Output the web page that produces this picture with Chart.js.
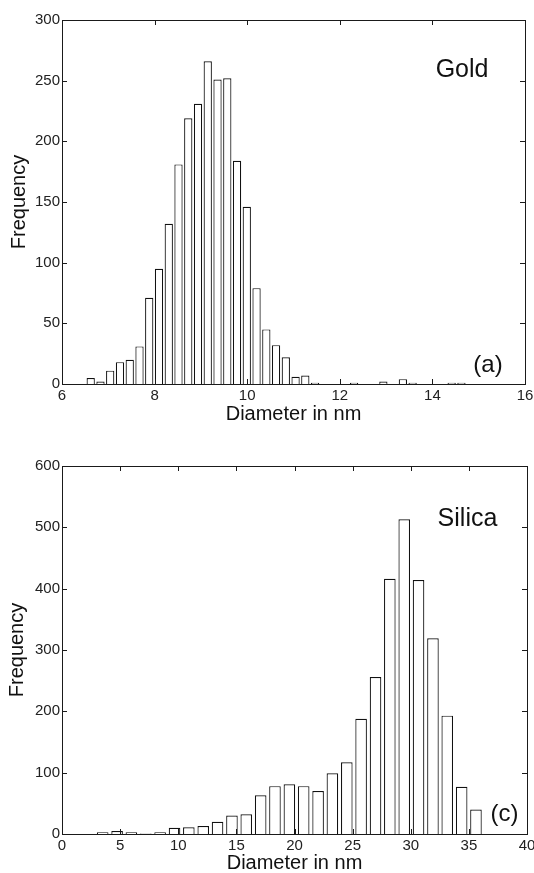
<!DOCTYPE html>
<html>
<head>
<meta charset="utf-8">
<script src="https://cdn.jsdelivr.net/npm/chart.js@4.4.0/dist/chart.umd.min.js"></script>
<style>
    html, body { margin: 0; padding: 0; background: #fff; }
    #goldChart { position: absolute; left: 0; top: 0; }
    #silicaChart { position: absolute; left: 0; top: 440px; }
</style>
</head>
<body>
<canvas id="goldChart" width="534" height="426"></canvas>
<canvas id="silicaChart" width="534" height="433"></canvas>
<script>
// --- Gold histogram (a) ---
const goldDiameters = [6.620, 6.831, 7.041, 7.252, 7.463, 7.674, 7.884, 8.095, 8.306, 8.516,
    8.727, 8.938, 9.148, 9.359, 9.570, 9.781, 9.991, 10.202, 10.413, 10.623,
    10.834, 11.045, 11.255, 11.466, 11.677, 11.888, 12.098, 12.309, 12.520, 12.730,
    12.941, 13.152, 13.362, 13.573, 13.784, 13.995, 14.205, 14.416, 14.627, 14.837];
const goldCounts = [5, 2, 11, 18, 20, 31, 71, 95, 132, 181,
    219, 231, 266, 251, 252, 184, 146, 79, 45, 32,
    22, 6, 7, 1, 0, 0, 0, 1, 0, 0,
    2, 0, 4, 1, 0, 0, 0, 1, 1, 0];
const goldXTicks = [6, 8, 10, 12, 14, 16];
const goldYTicks = [0, 50, 100, 150, 200, 250, 300];

// --- Silica histogram (c) ---
const silicaDiameters = [3.50, 4.74, 5.97, 7.21, 8.44, 9.68, 10.91, 12.15, 13.38, 14.62,
    15.85, 17.09, 18.32, 19.56, 20.79, 22.03, 23.26, 24.50, 25.73, 26.97,
    28.20, 29.44, 30.67, 31.91, 33.14, 34.38, 35.61];
const silicaCounts = [3, 5, 3, 1, 3, 10, 11, 13, 20, 30,
    32, 63, 78, 81, 78, 70, 99, 117, 188, 256,
    416, 513, 414, 319, 193, 77, 40];
const silicaXTicks = [0, 5, 10, 15, 20, 25, 30, 35, 40];
const silicaYTicks = [0, 100, 200, 300, 400, 500, 600];

const FONT = "'Liberation Sans', Arial, Helvetica, sans-serif";

// khung kiểu MATLAB: viền hộp + vạch chia hướng vào trong, chữ chú thích
const framePlugin = {
    id: 'frame',
    afterDatasetsDraw(chart, args, opts) {
        const { ctx, chartArea: a, scales: { x, y } } = chart;
        ctx.save();
        ctx.strokeStyle = '#1a1a1a';
        ctx.lineWidth = 1;
        ctx.strokeRect(Math.round(a.left) + 0.5, Math.round(a.top) + 0.5,
            Math.round(a.right - a.left), Math.round(a.bottom - a.top));
        ctx.beginPath();
        x.ticks.forEach(t => {
            const px = Math.round(x.getPixelForValue(t.value)) + 0.5;
            ctx.moveTo(px, a.bottom); ctx.lineTo(px, a.bottom - 5);
            ctx.moveTo(px, a.top); ctx.lineTo(px, a.top + 5);
        });
        y.ticks.forEach(t => {
            const py = Math.round(y.getPixelForValue(t.value)) + 0.5;
            ctx.moveTo(a.left, py); ctx.lineTo(a.left + 5, py);
            ctx.moveTo(a.right, py); ctx.lineTo(a.right - 5, py);
        });
        ctx.stroke();

        ctx.fillStyle = '#111';
        ctx.textAlign = 'center';
        ctx.textBaseline = 'alphabetic';
        ctx.font = `25px ${FONT}`;
        ctx.fillText(opts.name, x.getPixelForValue(opts.namePos[0]), y.getPixelForValue(opts.namePos[1]));
        ctx.font = `24px ${FONT}`;
        ctx.fillText(opts.tag, x.getPixelForValue(opts.tagPos[0]), y.getPixelForValue(opts.tagPos[1]));
        ctx.restore();
    }
};

const makeHist = (id, xs, counts, xTicks, yTicks, cfg) => {
    const ctx = document.getElementById(id).getContext('2d');
    return new Chart(ctx, {
        type: 'bar',
        data: {
            datasets: [{
                data: xs.map((v, i) => ({ x: v, y: counts[i] })),
                backgroundColor: '#ffffff',
                borderColor: '#111111',
                borderWidth: 1.2,
                barPercentage: cfg.barPct,
                categoryPercentage: 1
            }]
        },
        options: {
            responsive: false,
            animation: false,
            events: [],
            layout: { padding: { left: 0, top: cfg.top, right: cfg.right, bottom: 0 } },
            plugins: {
                legend: { display: false },
                tooltip: { enabled: false },
                frame: cfg.frame
            },
            scales: {
                x: {
                    type: 'linear',
                    min: xTicks[0], max: xTicks[xTicks.length - 1],
                    offset: false,
                    afterBuildTicks: s => { s.ticks = xTicks.map(v => ({ value: v })); },
                    afterFit: s => { s.height = cfg.xHeight; s.paddingLeft = 0; s.paddingRight = 0; },
                    grid: { display: false, drawTicks: false },
                    border: { display: false },
                    ticks: { color: '#222', padding: 3, maxRotation: 0, font: { family: FONT, size: 15 } },
                    title: {
                        display: true, text: 'Diameter in nm', color: '#111',
                        padding: { top: 0, bottom: cfg.titleBottom },
                        font: { family: FONT, size: 20 }
                    }
                },
                y: {
                    min: yTicks[0], max: yTicks[yTicks.length - 1],
                    afterBuildTicks: s => { s.ticks = yTicks.map(v => ({ value: v })); },
                    afterFit: s => { s.width = cfg.yWidth; s.paddingTop = 0; s.paddingBottom = 0; },
                    grid: { display: false, drawTicks: false },
                    border: { display: false },
                    ticks: { color: '#222', padding: 2, font: { family: FONT, size: 15 } },
                    title: {
                        display: true, text: 'Frequency', color: '#111',
                        padding: { top: cfg.yTitlePad, bottom: 0 },
                        font: { family: FONT, size: 20 }
                    }
                }
            }
        },
        plugins: [framePlugin]
    });
};

makeHist('goldChart', goldDiameters, goldCounts, goldXTicks, goldYTicks, {
    barPct: 0.85, top: 20, right: 9, xHeight: 42, yWidth: 62, titleBottom: 0, yTitlePad: 7,
    frame: { name: 'Gold', namePos: [14.64, 253], tag: '(a)', tagPos: [15.2, 10] }
});

makeHist('silicaChart', silicaDiameters, silicaCounts, silicaXTicks, silicaYTicks, {
    barPct: 0.81, top: 26, right: 7, xHeight: 39, yWidth: 62, titleBottom: -2, yTitlePad: 5,
    frame: { name: 'Silica', namePos: [34.88, 502], tag: '(c)', tagPos: [38.07, 22] }
});
</script>
</body>
</html>
